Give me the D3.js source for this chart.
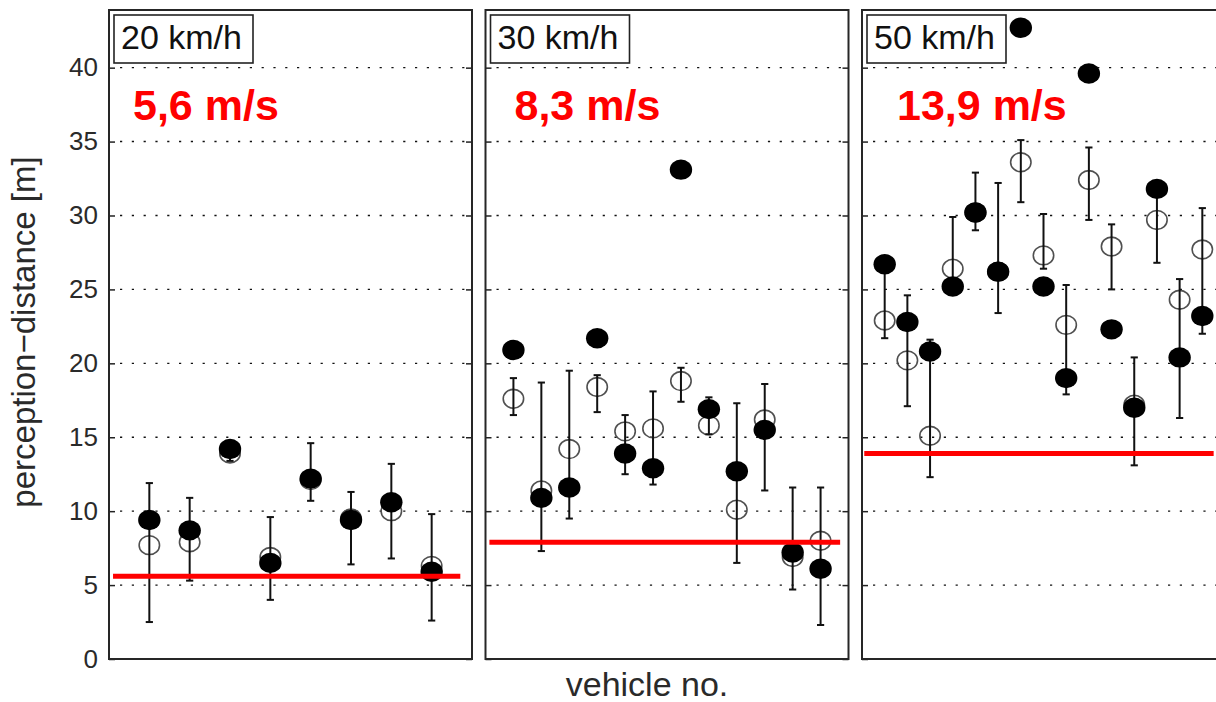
<!DOCTYPE html>
<html>
<head>
<meta charset="utf-8">
<script src="https://cdn.jsdelivr.net/npm/d3@7"></script>
<style>
  body { margin: 0; background: #fff; }
  svg { display: block; font-family: "Liberation Sans", Arial, Helvetica, sans-serif; }
</style>
</head>
<body>
<div id="chart"></div>
<script>
// speed classes (one panel each)
const speedLabels = ['20 km/h', '30 km/h', '50 km/h'];
const speedMs = ['5,6 m/s', '8,3 m/s', '13,9 m/s'];
const refDistance = [5.6, 7.9, 13.9];
const refFrom = [0.1, 0.14, 0.1];
const refTo = [8.71, 12.7, 15.5];

const yTicks = [0, 5, 10, 15, 20, 25, 30, 35, 40];

// 20 km/h, vehicles 1..8
const filled20 = [9.4, 8.7, 14.2, 6.5, 12.2, 9.4, 10.6, 5.9];
const open20 = [7.7, 7.9, 13.9, 6.9, 12.1, 9.5, 10.0, 6.3];
const low20 = [2.5, 5.3, 13.4, 4.0, 10.7, 6.4, 6.8, 2.6];
const high20 = [11.9, 10.9, 14.0, 9.6, 14.6, 11.3, 13.2, 9.8];

// 30 km/h, vehicles 1..12
const filled30 = [20.9, 10.9, 11.6, 21.7, 13.9, 12.9, 33.1, 16.9, 12.7, 15.5, 7.2, 6.1];
const open30 = [17.6, 11.4, 14.2, 18.4, 15.4, 15.6, 18.8, 15.8, 10.1, 16.2, 6.9, 8.0];
const low30 = [16.5, 7.3, 9.5, 16.7, 12.5, 11.8, 17.4, 15.2, 6.5, 11.4, 4.7, 2.3];
const high30 = [19.0, 18.7, 19.5, 19.2, 16.5, 18.1, 19.7, 17.7, 17.3, 18.6, 11.6, 11.6];

// 50 km/h, vehicles 1..15
const filled50 = [26.7, 22.8, 20.8, 25.2, 30.2, 26.2, 42.7, 25.2, 19.0, 39.6, 22.3, 17.0, 31.8, 20.4, 23.2];
const open50 = [22.9, 20.2, 15.1, 26.4, 30.2, 26.2, 33.6, 27.3, 22.6, 32.4, 27.9, 17.2, 29.7, 24.3, 27.7];
const low50 = [21.7, 17.1, 12.3, 25.5, 29.0, 23.4, 30.9, 26.4, 17.9, 29.7, 25.0, 13.1, 26.8, 16.3, 22.0];
const high50 = [26.6, 24.6, 21.6, 29.9, 32.9, 32.2, 35.1, 30.1, 25.3, 34.6, 29.4, 20.4, 31.6, 25.7, 30.5];

const filledSets = [filled20, filled30, filled50];
const openSets = [open20, open30, open50];
const lowSets = [low20, low30, low50];
const highSets = [high20, high30, high50];

const width = 1216;
const height = 702;
const plotTop = 10;
const plotBottom = 659;
const firstLeft = 109;
const panelWidth = 363;
const panelGap = 13.5;
const msOffset = [24, 29, 35];

const svg = d3
  .select('#chart')
  .append('svg')
  .attr('width', width)
  .attr('height', height);

const y = d3.scaleLinear().domain([0, 43.9]).range([plotBottom, plotTop]);

// y tick labels (left of first panel only)
svg
  .append('g')
  .attr('transform', `translate(${firstLeft}, 0)`)
  .call(d3.axisLeft(y).tickValues(yTicks).tickSize(0).tickPadding(11))
  .call(g => g.select('.domain').remove())
  .call(g =>
    g
      .selectAll('text')
      .attr('font-size', 26)
      .attr('font-family', '"Liberation Sans", Arial, sans-serif')
      .attr('fill', '#2a2a2a')
  );

speedLabels.forEach((label, i) => {
  const left = firstLeft + i * (panelWidth + panelGap);
  const right = left + panelWidth;
  const n = filledSets[i].length;
  const x = d3.scaleLinear().domain([0, n + 1]).range([left, right]);
  const panel = svg.append('g').attr('class', 'panel');

  const rows = filledSets[i].map((v, k) => ({
    vehicle: k + 1,
    filled: v,
    open: openSets[i][k],
    low: lowSets[i][k],
    high: highSets[i][k]
  }));

  // dotted grid
  panel
    .selectAll('.grid')
    .data(yTicks.filter(t => t > 0))
    .enter()
    .append('line')
    .attr('class', 'grid')
    .attr('x1', left + 6)
    .attr('x2', right - 6)
    .attr('y1', d => y(d))
    .attr('y2', d => y(d))
    .attr('stroke', '#111')
    .attr('stroke-width', 1.4)
    .attr('stroke-dasharray', '2.2,9.6')
    .attr('stroke-dashoffset', -5);

  // inward ticks on both sides
  panel
    .append('g')
    .attr('transform', `translate(${left}, 0)`)
    .call(d3.axisRight(y).tickValues(yTicks).tickSize(6).tickFormat(''))
    .call(g => g.select('.domain').remove())
    .call(g => g.selectAll('line').attr('stroke', '#222').attr('stroke-width', 1.5));

  panel
    .append('g')
    .attr('transform', `translate(${right}, 0)`)
    .call(d3.axisLeft(y).tickValues(yTicks).tickSize(6).tickFormat(''))
    .call(g => g.select('.domain').remove())
    .call(g => g.selectAll('line').attr('stroke', '#222').attr('stroke-width', 1.5));

  // panel frame
  panel
    .append('rect')
    .attr('x', left)
    .attr('y', plotTop)
    .attr('width', panelWidth)
    .attr('height', plotBottom - plotTop)
    .attr('fill', 'none')
    .attr('stroke', '#262626')
    .attr('stroke-width', 2);

  // open circles
  panel
    .selectAll('.open')
    .data(rows)
    .enter()
    .append('ellipse')
    .attr('class', 'open')
    .attr('cx', d => x(d.vehicle))
    .attr('cy', d => y(d.open))
    .attr('rx', 10.2)
    .attr('ry', 9.4)
    .attr('fill', 'none')
    .attr('stroke', '#505050')
    .attr('stroke-width', 1.6);

  // error bars
  const bars = panel.selectAll('.err').data(rows).enter().append('g').attr('class', 'err');

  bars
    .append('line')
    .attr('x1', d => x(d.vehicle))
    .attr('x2', d => x(d.vehicle))
    .attr('y1', d => y(d.low))
    .attr('y2', d => y(d.high))
    .attr('stroke', '#111')
    .attr('stroke-width', 2);

  ['low', 'high'].forEach(key => {
    bars
      .append('line')
      .attr('x1', d => x(d.vehicle) - 3.6)
      .attr('x2', d => x(d.vehicle) + 3.6)
      .attr('y1', d => y(d[key]))
      .attr('y2', d => y(d[key]))
      .attr('stroke', '#111')
      .attr('stroke-width', 2);
  });

  // filled circles
  panel
    .selectAll('.filled')
    .data(rows)
    .enter()
    .append('ellipse')
    .attr('class', 'filled')
    .attr('cx', d => x(d.vehicle))
    .attr('cy', d => y(d.filled))
    .attr('rx', 11.2)
    .attr('ry', 10.2)
    .attr('fill', '#000');

  // reference distance
  panel
    .append('line')
    .attr('x1', x(refFrom[i]))
    .attr('x2', x(refTo[i]))
    .attr('y1', y(refDistance[i]))
    .attr('y2', y(refDistance[i]))
    .attr('stroke', '#ff0000')
    .attr('stroke-width', 5);

  // speed label box
  panel
    .append('rect')
    .attr('x', left + 5)
    .attr('y', 15)
    .attr('width', 139)
    .attr('height', 48)
    .attr('fill', '#fff')
    .attr('stroke', '#222')
    .attr('stroke-width', 1.6);

  panel
    .append('text')
    .attr('x', left + 12)
    .attr('y', 49)
    .attr('font-size', 34)
    .attr('fill', '#111')
    .text(label);

  panel
    .append('text')
    .attr('x', left + msOffset[i])
    .attr('y', 120)
    .attr('font-size', 43)
    .attr('font-weight', 'bold')
    .attr('fill', '#ff0000')
    .text(speedMs[i]);
});

svg
  .append('text')
  .attr('transform', 'translate(35, 332) rotate(-90)')
  .attr('text-anchor', 'middle')
  .attr('font-size', 33)
  .attr('fill', '#2a2a2a')
  .text('perception\u2212distance [m]');

svg
  .append('text')
  .attr('x', 647)
  .attr('y', 696)
  .attr('text-anchor', 'middle')
  .attr('font-size', 34)
  .attr('fill', '#2a2a2a')
  .text('vehicle no.');
</script>
</body>
</html>
